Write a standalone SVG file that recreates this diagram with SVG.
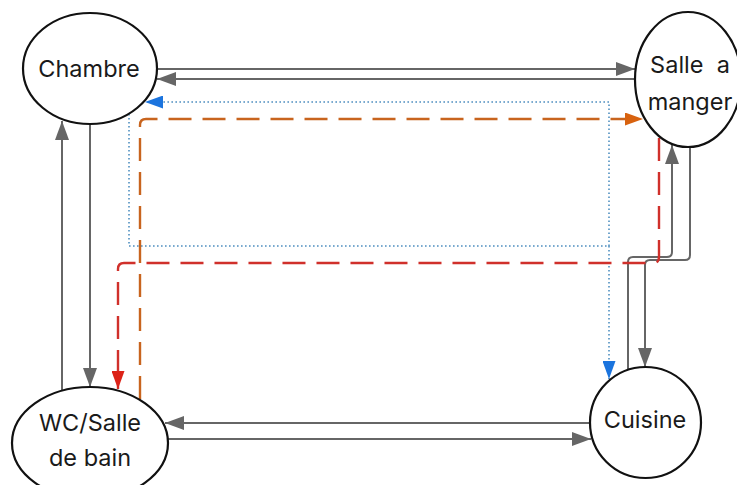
<svg xmlns="http://www.w3.org/2000/svg" width="737" height="485" viewBox="0 0 737 485">
<defs>
<style>
.node ellipse{fill:#fff;stroke:#111;stroke-width:2.2}
.node text{font-family:Inter,"Noto Sans","Liberation Sans",sans-serif;font-size:23.5px;fill:#1a1a1a;text-anchor:middle}
.g{fill:none;stroke:#666;stroke-width:2;marker-end:url(#ag)}
.b{fill:none;stroke:#4f8fc0;stroke-width:1.6;stroke-dasharray:1.6 2.4}
.o{fill:none;stroke:#c8641e;stroke-width:2.4;stroke-dasharray:23 11;marker-end:url(#ao)}
.r{fill:none;stroke:#d0302b;stroke-width:2.4;stroke-dasharray:23 11;marker-end:url(#ar)}
</style>
<marker id="ag" markerUnits="userSpaceOnUse" markerWidth="19" markerHeight="14" refX="19" refY="7" orient="auto"><path d="M0,0 L19,7 L0,14 z" fill="#666"/></marker>
<marker id="ab" markerUnits="userSpaceOnUse" markerWidth="18" markerHeight="13" refX="18" refY="6.5" orient="auto"><path d="M0,0 L18,6.5 L0,13 z" fill="#1b74de"/></marker>
<marker id="ao" markerUnits="userSpaceOnUse" markerWidth="18" markerHeight="13" refX="18" refY="6.5" orient="auto"><path d="M0,0 L18,6.5 L0,13 z" fill="#d8620f"/></marker>
<marker id="ar" markerUnits="userSpaceOnUse" markerWidth="18" markerHeight="13" refX="18" refY="6.5" orient="auto"><path d="M0,0 L18,6.5 L0,13 z" fill="#dc2318"/></marker>
</defs>
<rect width="737" height="485" fill="#fff"/>
<g id="connectors">
<path class="g" d="M157,69 H635"/>
<path class="g" d="M636,79 H157"/>
<path class="g" d="M90,124 V387"/>
<path class="g" d="M62,392 V121"/>
<path class="g" d="M590,423 H165"/>
<path class="g" d="M167,439 H591"/>
<path class="g" d="M628,370 V262 Q628,257 633,257 H667 Q672,257 672,252 V145"/>
<path class="g" d="M690,147 V255 Q690,260 685,260 H650 Q645,260 645,265 V367"/>
<path class="b" d="M129,114 V246 H609 V379" marker-end="url(#ab)"/>
<path class="b" d="M609,246 V102 H145" marker-end="url(#ab)"/>
<path class="o" d="M140,399 V125 Q140,119 146,119 H643"/>
<path class="r" d="M659,138 V257 Q659,263 653,263 H124 Q118,263 118,269 V389"/>
</g>
<g id="chambre" class="node"><ellipse cx="90" cy="68.5" rx="67" ry="55.5"/><text x="89" y="77">Chambre</text></g>
<g id="salle-a-manger" class="node"><ellipse cx="688" cy="79.5" rx="53" ry="67.5"/><text x="690" y="73" xml:space="preserve">Salle  a</text><text x="690" y="110">manger</text></g>
<g id="wc-salle-de-bain" class="node"><ellipse cx="90" cy="443" rx="78" ry="56"/><text x="90" y="431">WC/Salle</text><text x="90" y="466">de bain</text></g>
<g id="cuisine" class="node"><ellipse cx="645.5" cy="422.5" rx="55.5" ry="55.5"/><text x="645" y="428">Cuisine</text></g>
</svg>
